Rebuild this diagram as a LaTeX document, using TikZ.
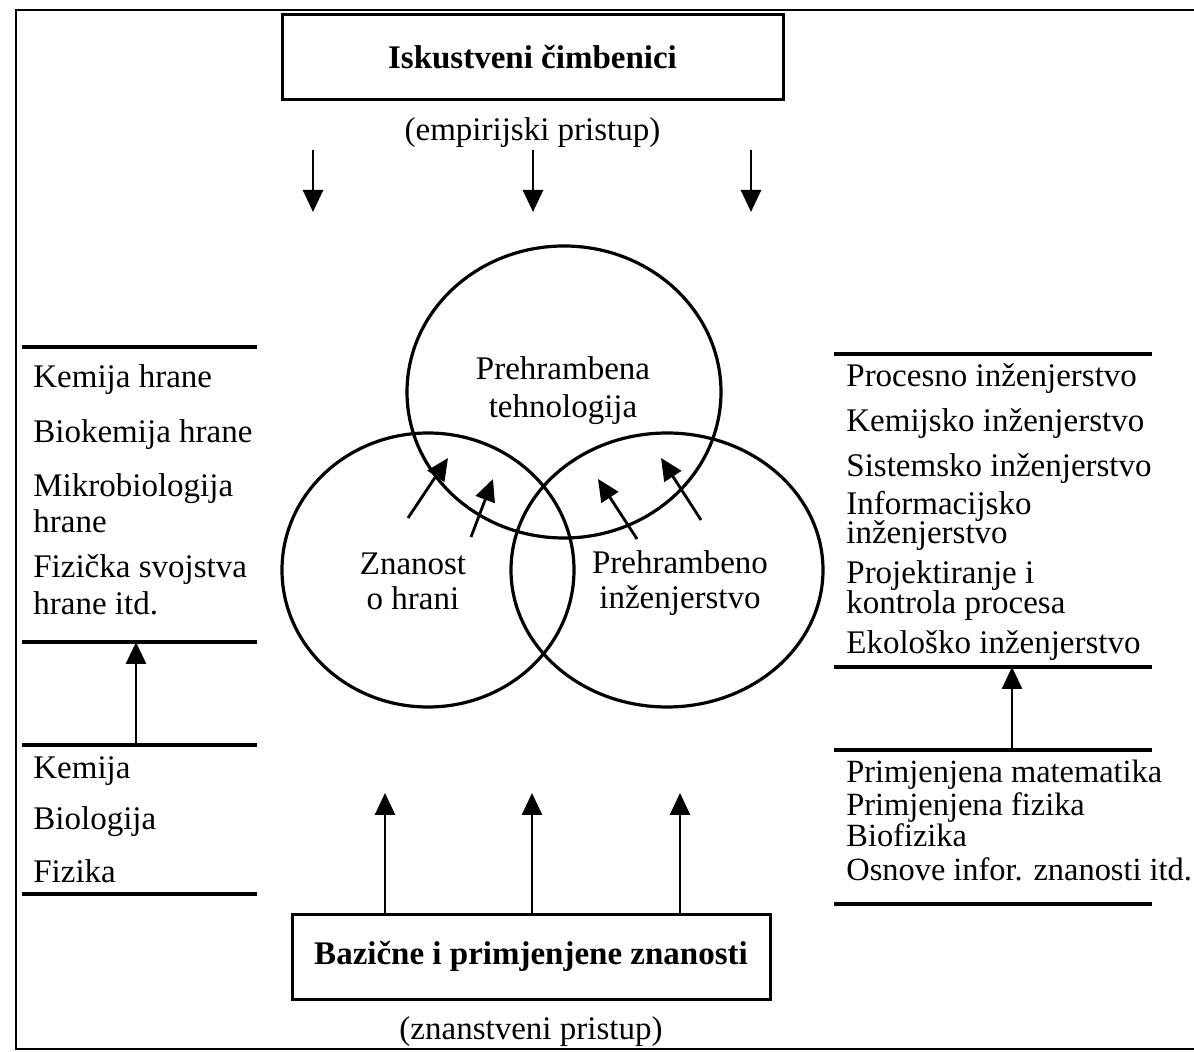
\documentclass[tikz,border=0pt]{standalone}
\usepackage{fontspec}
\setmainfont{Liberation Serif}
\usetikzlibrary{arrows.meta}
\usetikzlibrary{positioning}
\usetikzlibrary{shapes.geometric}
\tikzset{
  >={Triangle[length=11pt, width=10pt]}, node distance = 10pt,
  every node/.style = {font=\fontsize{16.5}{19}\selectfont, inner sep=0pt},
  titlebox/.style = {rectangle, draw, line width=1.5pt, minimum height=42.5pt,
    font=\fontsize{16.5}{19}\selectfont\bfseries},
  field/.style = {ellipse, draw, line width=1.6pt},
  fieldname/.style = {align=center},
  item/.style = {anchor=base west},
  smallitem/.style = {anchor=base west, font=\fontsize{16.2}{19}\selectfont},
  rule/.style = {line width=2pt},
  flow/.style = {->, line width=1.4pt},
  frame/.style = {line width=1pt},
}

\begin{document}
\begin{tikzpicture}[x=0.5pt, y=-0.5pt]
  \useasboundingbox (0,0) rectangle (1194,1052);
  \draw [frame] (1194,10) -- (16,10) -- (16,1049) -- (1194,1049);

  % nodes
  \node [titlebox, minimum width=250.5pt] (iskus) at (532.5,57.5) {Iskustveni čimbenici};
  \node [below = 8pt of iskus] (empir) {(empirijski pristup)};
  \node [titlebox, minimum width=239pt] (bazic) at (531,956.5) {Bazične i primjenjene znanosti};
  \node [below = 8pt of bazic] (znans) {(znanstveni pristup)};

  \node [field, minimum width=157pt, minimum height=146pt] (tech) at (564,392) {};
  \node [field, minimum width=146pt, minimum height=137pt] (sci) at (428,570) {};
  \node [field, minimum width=156pt, minimum height=137pt] (eng) at (667,570) {};
  \node [fieldname] (techname) at (563,391) {Prehrambena\\tehnologija};
  \node [fieldname, font=\fontsize{16.5}{17.5}\selectfont] (sciname) at (413,581) {Znanost\\o hrani};
  \node [fieldname, font=\fontsize{16.5}{17.5}\selectfont] (engname) at (680,583) {Prehrambeno\\inženjerstvo};

  % left lists
  \node [item] (k1) at (33,388) {Kemija hrane};
  \node [below = 27.5pt of k1.base west, item] (k2) {Biokemija hrane};
  \node [below = 27pt of k2.base west, item] (k3) {Mikrobiologija};
  \node [below = 18pt of k3.base west, item] (k4) {hrane};
  \node [below = 22.5pt of k4.base west, item] (k5) {Fizička svojstva};
  \node [below = 18.5pt of k5.base west, item] (k6) {hrane itd.};
  \node [item] (s1) at (33,779) {Kemija};
  \node [below = 25pt of s1.base west, item] (s2) {Biologija};
  \node [below = 26.5pt of s2.base west, item] (s3) {Fizika};

  % right lists
  \node [item] (p1) at (846,387) {Procesno inženjerstvo};
  \node [below = 22.5pt of p1.base west, item] (p2) {Kemijsko inženjerstvo};
  \node [below = 22.5pt of p2.base west, item] (p3) {Sistemsko inženjerstvo};
  \node [below = 19pt of p3.base west, item] (p4) {Informacijsko};
  \node [below = 14.5pt of p4.base west, item] (p5) {inženjerstvo};
  \node [below = 20pt of p5.base west, item] (p6) {Projektiranje i};
  \node [below = 15pt of p6.base west, item] (p7) {kontrola procesa};
  \node [below = 20pt of p7.base west, item] (p8) {Ekološko inženjerstvo};
  \node [smallitem] (m1) at (846,783) {Primjenjena matematika};
  \node [below = 16pt of m1.base west, smallitem] (m2) {Primjenjena fizika};
  \node [below = 16pt of m2.base west, smallitem] (m3) {Biofizika};
  \node [below = 16.5pt of m3.base west, smallitem] (m4) {Osnove infor. znanosti itd.};

  % rules
  \draw [rule] (22,347) -- (257,347);
  \draw [rule] (22,642) -- (257,642);
  \draw [rule] (22,745) -- (257,745);
  \draw [rule] (22,894) -- (257,894);
  \draw [rule] (834,354) -- (1152,354);
  \draw [rule] (834,667) -- (1152,667);
  \draw [rule] (834,750) -- (1152,750);
  \draw [rule] (834,904) -- (1152,904);

  % arrow ends
  \coordinate (e1) at (313,150);  \coordinate (e1t) at (313,212);
  \coordinate (e2) at (533,150);  \coordinate (e2t) at (533,212);
  \coordinate (e3) at (751,150);  \coordinate (e3t) at (751,212);
  \coordinate (b1) at (385,793);
  \coordinate (b2) at (532,793);
  \coordinate (b3) at (680,793);
  \coordinate (l0) at (136,745);  \coordinate (l1) at (136,642);
  \coordinate (r0) at (1012,750); \coordinate (r1) at (1012,667);
  \coordinate (c1) at (408,518);  \coordinate (c1t) at (448,458);
  \coordinate (c2) at (471,537);  \coordinate (c2t) at (493,479);
  \coordinate (c3) at (637,539);  \coordinate (c3t) at (598,479);
  \coordinate (c4) at (701,520);  \coordinate (c4t) at (661,458);

  % edges
  \draw [flow] (e1) -- (e1t);
  \draw [flow] (e2) -- (e2t);
  \draw [flow] (e3) -- (e3t);
  \draw [flow] (bazic.north -| b1) -- (b1);
  \draw [flow] (bazic.north -| b2) -- (b2);
  \draw [flow] (bazic.north -| b3) -- (b3);
  \draw [flow] (l0) -- (l1);
  \draw [flow] (r0) -- (r1);
  \draw [flow] (c1) -- (c1t);
  \draw [flow] (c2) -- (c2t);
  \draw [flow] (c3) -- (c3t);
  \draw [flow] (c4) -- (c4t);
\end{tikzpicture}
\end{document}
